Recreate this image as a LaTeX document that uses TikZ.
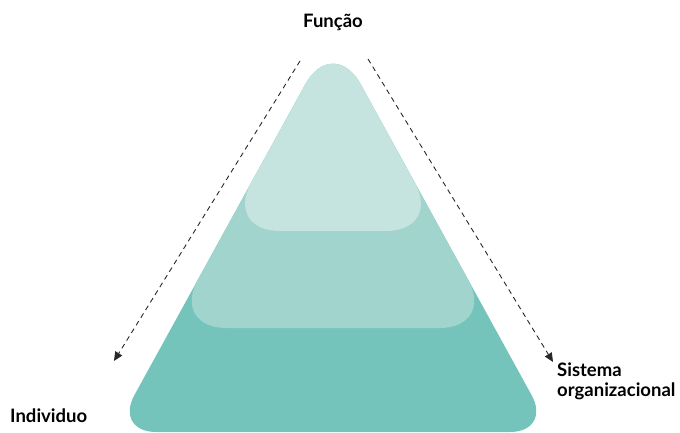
\documentclass[tikz,border=0pt]{standalone}
\usepackage{fontspec}
\setmainfont{Lato}
\usetikzlibrary{arrows.meta}
\definecolor{tealdark}{RGB}{117,196,188}
\definecolor{tealmid}{RGB}{160,212,205}
\definecolor{teallight}{RGB}{197,227,223}
\definecolor{arrowgray}{RGB}{40,40,40}
\tikzset{
  label/.style={font=\bfseries\fontsize{18.5}{19.5}\selectfont, text=black, inner sep=0pt},
  flow/.style={draw=arrowgray, line width=0.9pt, dash pattern=on 5pt off 4pt,
    -{Triangle[length=9pt,width=8pt]}},
}
\begin{document}
\begin{tikzpicture}[x=1pt,y=-1pt]
  \useasboundingbox (0,0) rectangle (680,433);

  % outer level
  \fill[tealdark] (305.05,84.82) .. controls (320.49,56.75) and (345.51,56.75) .. (360.95,84.82)
    -- (531.66,395.20) .. controls (542.84,415.52) and (533.10,432) .. (509.90,432)
    -- (156.10,432) .. controls (132.90,432) and (123.16,415.52) .. (134.34,395.20) -- cycle;

  % middle level
  \fill[tealmid] (305.05,84.82) .. controls (320.49,56.75) and (345.51,56.75) .. (360.95,84.82)
    -- (468.20,279.81) .. controls (482.84,306.43) and (470.08,328) .. (439.70,328)
    -- (226.30,328) .. controls (195.92,328) and (183.16,306.43) .. (197.80,279.81) -- cycle;

  % top level
  \fill[teallight] (305.05,84.82) .. controls (320.49,56.75) and (345.51,56.75) .. (360.95,84.82)
    -- (414.85,182.81) .. controls (429.49,209.43) and (416.73,231) .. (386.35,231)
    -- (279.65,231) .. controls (249.27,231) and (236.51,209.43) .. (251.15,182.81) -- cycle;

  % labels
  \node[label, anchor=base] (func) at (333,28) {Função};
  \node[label, anchor=base west] (indiv) at (10,422) {Individuo};
  \node[label, anchor=base west, align=left] (sist) at (557,396)
    {Sistema\\organizacional};

  % direction arrows
  \coordinate (lstart) at (300,61);
  \coordinate (lend) at (114,361);
  \coordinate (rstart) at (368,59);
  \coordinate (rend) at (553,362);
  \draw[flow] (lstart) -- (lend);
  \draw[flow] (rstart) -- (rend);
\end{tikzpicture}
\end{document}
